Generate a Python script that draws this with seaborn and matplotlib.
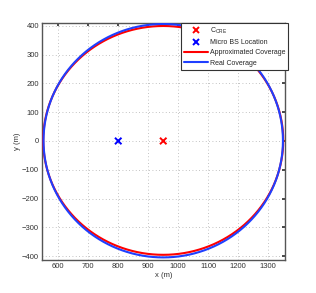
import numpy as np
import pandas as pd
import matplotlib
matplotlib.use("Agg")
import matplotlib.pyplot as plt
import seaborn as sns

# Data
cre_point = (950, 0)          # C_CRE
bs_point = (800, 0)           # Micro BS location
approx_center = (950, 2)
approx_radii = (400, 397)     # (x-radius, y-radius)
real_center = (950, 1)
real_radii = (399, 405)
xticks = [600, 700, 800, 900, 1000, 1100, 1200, 1300]
yticks = [-400, -300, -200, -100, 0, 100, 200, 300, 400]

sns.set_theme(style="white")
plt.rcParams['font.family'] = ['Liberation Sans', 'DejaVu Sans']
plt.rcParams['mathtext.fontset'] = 'custom'
plt.rcParams['mathtext.rm'] = 'Liberation Sans'

theta = np.linspace(0, 2 * np.pi, 721)
def ring(c, r, name):
    return pd.DataFrame({"x": c[0] + r[0] * np.cos(theta),
                         "y": c[1] + r[1] * np.sin(theta),
                         "t": np.arange(theta.size), "curve": name})

df_lines = pd.concat([ring(approx_center, approx_radii, "Approximated Coverage"),
                      ring(real_center, real_radii, "Real Coverage")])
df_pts = pd.DataFrame({"x": [cre_point[0], bs_point[0]],
                       "y": [cre_point[1], bs_point[1]],
                       "kind": [r"C$_{\mathrm{CRE}}$", "Micro BS Location"]})

fig = plt.figure(figsize=(3.16, 2.93), dpi=100)
ax = fig.add_axes([0.132, 0.1126, 0.771, 0.8105])

sns.scatterplot(data=df_pts, x="x", y="y", hue="kind", palette=["#ff0000", "#0000ff"],
                marker="x", s=22, linewidth=1.4, ax=ax, zorder=4)
sns.lineplot(data=df_lines, x="x", y="y", hue="curve", units="curve", estimator=None,
             sort=False, palette=["#ff0000", "#1f3fff"], linewidth=1.5, ax=ax, zorder=3)

ax.set_xlim(545, 1357)
ax.set_ylim(-413, 411)
ax.set_xticks(xticks)
ax.set_yticks(yticks)
ax.tick_params(direction="in", length=2.5, labelsize=5.5, colors="#333333", pad=2,
               top=True, right=True)
ax.grid(True, linestyle=(0, (1, 3)), color="#b0b0b0", linewidth=0.6)
for s in ax.spines.values():
    s.set_color("#555555")
    s.set_linewidth(1.0)
ax.set_xlabel("x (m)", fontsize=5.5, color="#333333", labelpad=1.5)
ax.set_ylabel("y (m)", fontsize=5.5, color="#333333", labelpad=1)

h, l = ax.get_legend_handles_labels()
leg = ax.legend(h, l, loc="upper right", bbox_to_anchor=(1.012, 1.0), fontsize=5.0,
                frameon=True, fancybox=False, edgecolor="#333333", framealpha=1,
                borderpad=0.4, labelspacing=0.5, handlelength=3.5, handletextpad=0.25,
                borderaxespad=0)
leg.get_frame().set_linewidth(0.8)

fig.savefig("out.png", dpi=100)
